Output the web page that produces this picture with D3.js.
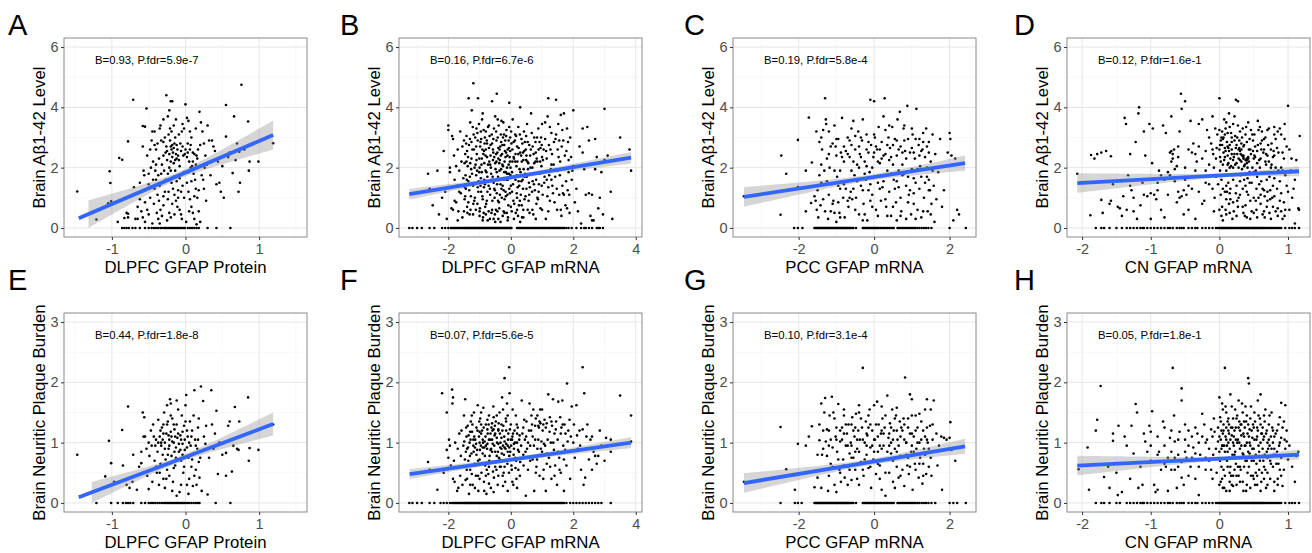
<!DOCTYPE html>
<html>
<head>
<meta charset="utf-8">
<script src="https://cdnjs.cloudflare.com/ajax/libs/d3/7.8.5/d3.min.js"></script>
<style>
body { margin: 0; background: #fff; }
svg { display: block; }
text { font-family: "Liberation Sans", Arial, sans-serif; }
</style>
</head>
<body>
<script>
// ---- labels ----
var letters = ["A", "B", "C", "D", "E", "F", "G", "H"];
var xTitles = ["DLPFC GFAP Protein", "DLPFC GFAP mRNA", "PCC GFAP mRNA", "CN GFAP mRNA"];
var yTitles = ["Brain A\u03b21-42 Level", "Brain Neuritic Plaque Burden"];
var statLabels = ["B=0.93, P.fdr=5.9e-7", "B=0.16, P.fdr=6.7e-6", "B=0.19, P.fdr=5.8e-4", "B=0.12, P.fdr=1.6e-1",
                  "B=0.44, P.fdr=1.8e-8", "B=0.07, P.fdr=5.6e-5", "B=0.10, P.fdr=3.1e-4", "B=0.05, P.fdr=1.8e-1"];

// ---- axes ----
var xDomains = [[-1.65, 1.65], [-3.58, 4.2], [-3.74, 2.7], [-2.22, 1.32]];
var xTicks = [[-1, 0, 1], [-2, 0, 2, 4], [-2, 0, 2], [-2, -1, 0, 1]];
var xMinor = [[-1.5, -0.5, 0.5, 1.5], [-3, -1, 1, 3], [-3, -1, 1], [-1.5, -0.5, 0.5]];
var yDomains = [[-0.3, 6.3], [-0.15, 3.15]];
var yTicks = [[0, 2, 4, 6], [0, 1, 2, 3]];
var yMinor = [[1, 3, 5], [0.5, 1.5, 2.5]];

// fitted line + band: x0, x1, y0, y1, x at narrowest, half width there, widening
var fits = [
    [-1.45, 1.19, 0.32, 3.08, -0.1, 0.12, 0.36],
    [-3.25, 3.85, 1.12, 2.33, 0.1, 0.07, 0.048],
    [-3.45, 2.41, 1.03, 2.15, -0.1, 0.1, 0.092],
    [-2.07, 1.16, 1.49, 1.88, 0.1, 0.07, 0.146],
    [-1.45, 1.19, 0.094, 1.31, -0.1, 0.05, 0.142],
    [-3.24, 3.85, 0.48, 1.0, 0.1, 0.035, 0.0224],
    [-3.45, 2.41, 0.33, 0.94, -0.1, 0.05, 0.0458],
    [-2.07, 1.16, 0.62, 0.8, 0.1, 0.035, 0.073]
];

// ---- points (x values of the y = 0 rows kept apart) ----
var zeroA = [-0.86,-0.83,-0.8,-0.77,-0.72,-0.68,-0.62,-0.55,-0.5,-0.46,-0.43,-0.4,-0.37,-0.34,-0.32,-0.29,-0.27,-0.25,-0.23,-0.21,-0.19,-0.17,-0.15,-0.13,-0.11,-0.09,-0.07,-0.05,-0.03,-0.01,0.03,0.06,0.09,0.12,0.15,0.18,0.3,0.42,0.61];
var ptsA = [[-1.47,1.21],[-1.21,0.28],[-1.03,1.88],[-1.02,1.49],[-1.01,0.88],[-1.05,0.82],[-0.92,0.2],[-0.9,2.32],[-0.86,2.26],[-0.78,2.87],[-0.71,4.25],[-0.83,0.33],[-0.8,0.5],[-0.78,0.47],[-0.78,0.35],
  [-0.58,3.38],[-0.55,3.36],[-0.53,3.96],[-0.58,2.7],[-0.52,2.4],[-0.57,1.9],[-0.56,1.75],[-0.5,1.45],[-0.6,1.2],[-0.62,1.5],[-0.55,0.85],[-0.52,0.6],[-0.5,0.45],[-0.58,0.35],[-0.6,0.55],[-0.48,1.0],[-0.47,2.0],[-0.46,2.9],[-0.45,3.2],[-0.65,0.7],
  [-0.42,3.2],[-0.4,2.6],[-0.38,2.8],[-0.36,2.3],[-0.35,3.3],[-0.34,3.4],[-0.33,1.8],[-0.32,2.1],[-0.4,1.6],[-0.42,1.3],[-0.38,1.1],[-0.36,0.9],[-0.34,0.6],[-0.32,0.4],[-0.3,0.75],[-0.28,1.2],[-0.29,1.9],[-0.27,2.5],[-0.26,2.7],[-0.28,3.0],[-0.26,4.4],[-0.3,3.6],[-0.44,2.2],[-0.41,1.9],[-0.39,0.5],[-0.37,0.3],[-0.35,1.4],[-0.31,1.5],[-0.3,2.4],[-0.43,0.8],
  [-0.24,3.7],[-0.22,3.9],[-0.2,4.2],[-0.18,4.2],[-0.23,3.1],[-0.21,2.9],[-0.2,2.7],[-0.19,2.6],[-0.18,2.75],[-0.17,2.5],[-0.16,2.65],[-0.15,2.8],[-0.14,3.0],[-0.13,2.45],[-0.12,2.3],[-0.2,2.2],[-0.22,2.0],[-0.24,1.8],[-0.21,1.6],[-0.19,1.5],[-0.17,1.3],[-0.15,1.1],[-0.13,0.9],[-0.11,0.7],[-0.23,1.2],[-0.24,0.95],[-0.22,0.5],[-0.2,0.35],[-0.18,0.8],[-0.16,1.7],[-0.14,1.9],[-0.12,1.55],[-0.1,1.25],[-0.08,2.05],[-0.06,2.55],[-0.05,3.2],[-0.04,3.45],[-0.02,3.3],[-0.09,3.1],[-0.07,2.8],[-0.03,2.4],[-0.01,2.45],[-0.1,1.0],[-0.08,0.6],[-0.06,0.45],[-0.04,1.4],[-0.02,1.0],[-0.11,2.6],[-0.25,2.55],[-0.16,3.4],[-0.13,3.6],[-0.19,3.2],
  [0.0,4.1],[0.02,3.65],[0.04,3.55],[0.06,3.2],[0.08,3.0],[0.1,2.5],[0.12,2.45],[0.03,2.5],[0.05,2.2],[0.07,2.0],[0.09,2.05],[0.11,1.8],[0.13,1.6],[0.15,2.4],[0.17,2.6],[0.19,3.85],[0.21,3.5],[0.23,3.2],[0.25,2.8],[0.27,2.4],[0.29,2.1],[0.02,1.5],[0.04,1.2],[0.06,0.95],[0.08,0.7],[0.1,0.5],[0.12,0.3],[0.14,1.3],[0.16,1.0],[0.18,0.55],[0.2,0.2],[0.22,1.75],[0.24,1.6],[0.26,2.0],[0.01,0.2],[0.03,2.8],[0.14,3.3],[0.3,3.4],[0.32,2.9],
  [0.36,2.9],[0.38,2.7],[0.4,2.55],[0.42,1.45],[0.46,1.5],[0.48,1.2],[0.5,2.05],[0.55,3.03],[0.55,4.08],[0.6,2.5],[0.64,1.82],[0.66,3.7],[0.7,2.8],[0.72,1.2],[0.73,2.53],[0.74,1.5],[0.76,4.75],[0.85,3.53],[0.86,1.9],[0.87,2.2],[0.99,2.2],[1.19,2.81],[0.34,1.75],[0.44,2.2],[0.52,1.0],[0.58,2.35],[0.68,2.25],[0.8,2.6],
  [-0.48,2.6],[-0.44,1.6],[-0.4,2.1],[-0.37,1.75],[-0.33,2.9],[-0.3,1.05],[-0.27,1.6],[-0.25,2.25],[-0.22,2.45],[-0.2,1.9],[-0.18,2.35],[-0.16,2.15],[-0.14,2.25],[-0.12,2.75],[-0.1,2.4],[-0.08,1.65],[-0.06,1.2],[-0.04,2.7],[-0.02,1.85],[0.0,2.6],[0.02,2.35],[0.04,1.85],[0.06,2.6],[0.08,1.55],[0.1,2.2],[0.12,1.05],[0.14,2.1],[0.16,2.3],[0.18,1.25],[-0.35,0.15],[-0.25,0.25],[-0.15,0.45],[-0.05,0.3],[0.05,0.55],[-0.45,0.15],[-0.55,0.2],[-0.65,0.3],[0.15,0.12],[-0.3,2.85],[-0.21,3.3],[-0.09,2.25],[0.07,2.75],[-0.42,2.75],[-0.5,1.8],[0.2,2.75],[0.25,1.3],[0.28,0.9],[-0.62,0.95],[-0.7,1.35],[-0.68,0.3]];

var zeroB = [-3.25,-3.15,-3.0,-2.85,-2.6,-2.45,-2.2,-2.1,-2.0,-1.92,-1.85,-1.78,-1.7,-1.62,-1.55,-1.48,-1.42,-1.36,-1.3,-1.24,-1.18,-1.12,-1.06,-1.0,-0.94,-0.88,-0.82,-0.76,-0.7,-0.64,-0.58,-0.52,-0.46,-0.4,-0.34,-0.28,-0.22,-0.16,-0.1,-0.04,0.02,0.2,0.28,0.36,0.44,0.52,0.6,0.68,0.76,0.84,0.92,1.0,1.08,1.16,1.24,1.32,1.4,1.48,1.56,1.64,1.72,1.85,1.95,2.1,2.25,2.35,2.5,2.75,2.85,2.95,
  -1.89,-1.81,-1.74,-1.66,-1.59,-1.51,-1.45,-1.39,-1.33,-1.27,-1.21,-1.15,-1.09,-1.03,-0.97,-0.91,-0.85,-0.79,-0.73,-0.67,-0.61,-0.55,-0.49,-0.43,-0.37,-0.31,-0.25,-0.19,-0.13,-0.07,-0.01,0.24,0.32,0.4,0.48,0.56,0.64,0.72,0.8,0.88,0.96,1.04,1.12,1.2,1.28,1.36,1.44,1.52,1.6,1.68,1.78,2.4,2.6,2.8];
var ptsB = [[-2.65,1.8],[-2.6,1.3],[-2.5,0.75],[-2.35,1.9],[-2.3,0.45],[-2.2,1.0],[-2.15,2.55],[-2.1,1.2],[-2.05,0.3],[-2.0,3.25],[-2.0,3.4],[-1.95,1.85],[-1.95,2.0],[-1.9,0.65],[-1.88,3.05],[-1.85,2.95],[-1.85,0.6],[-1.82,2.4],[-1.8,1.6],[-1.8,0.9],[-1.75,2.05],
  [-1.75,0.85],[-1.72,1.4],[-1.7,2.6],[-1.68,0.55],[-1.65,1.9],[-1.62,3.2],[-1.6,1.15],[-1.58,2.2],[-1.55,0.35],[-1.52,1.65],[-1.5,2.9],[-1.48,0.95],[-1.46,2.45],[-1.44,1.3],[-1.42,3.05],[-1.4,0.7],[-1.38,2.05],[-1.36,1.55],[-1.34,2.75],[-1.32,0.45],[-1.3,3.5],[-1.28,1.05],[-1.26,2.3],[-1.24,1.8],[-1.22,3.35],[-1.2,0.8],[-1.2,4.8],[-1.35,4.3],[-1.25,3.9],[-1.7,0.25],[-1.55,2.7],[-1.45,1.75],[-1.65,1.2],[-1.4,2.55],[-1.3,2.15],
  [-1.18,2.6],[-1.16,1.45],[-1.14,3.0],[-1.12,0.6],[-1.1,2.25],[-1.08,1.9],[-1.06,2.9],[-1.05,4.3],[-1.04,1.2],[-1.02,3.45],[-1.0,0.4],[-0.98,2.7],[-0.96,1.65],[-0.94,2.1],[-0.92,3.6],[-0.9,3.8],[-0.9,0.95],[-0.88,2.45],[-0.86,1.35],[-0.84,2.8],[-0.82,0.7],[-0.8,3.2],[-0.78,1.85],[-0.76,2.35],[-0.74,0.25],[-0.72,1.55],[-0.7,2.65],[-0.68,3.05],[-0.66,1.1],[-0.64,2.0],[-0.62,0.5],[-0.6,4.2],[-0.6,2.8],[-1.15,1.0],[-1.1,3.3],[-1.0,2.0],[-0.95,2.95],[-0.85,1.6],[-0.8,2.6],[-0.75,1.2],[-0.7,3.4],[-0.65,2.4],[-1.07,0.8],[-0.97,1.4],[-0.87,0.5],[-0.77,0.9],[-0.67,0.3],[-0.93,2.3],[-0.83,3.0],[-0.73,2.1],
  [-0.58,1.7],[-0.56,2.5],[-0.54,3.3],[-0.52,1.0],[-0.5,2.15],[-0.48,0.6],[-0.46,2.9],[-0.45,4.45],[-0.44,1.45],[-0.42,3.6],[-0.4,2.3],[-0.38,0.85],[-0.36,1.9],[-0.34,2.7],[-0.32,3.1],[-0.3,1.3],[-0.28,2.45],[-0.26,0.4],[-0.24,3.5],[-0.22,1.6],[-0.2,2.2],[-0.18,2.9],[-0.16,1.05],[-0.14,3.25],[-0.12,2.0],[-0.1,2.6],[-0.08,0.75],[-0.06,1.8],[-0.05,4.15],[-0.04,2.35],[-0.02,3.0],[0.0,1.4],[-0.55,0.3],[-0.5,3.7],[-0.45,1.85],[-0.4,2.65],[-0.35,1.1],[-0.3,3.55],[-0.25,2.05],[-0.2,0.95],[-0.15,2.5],[-0.1,1.6],[-0.05,3.35],[-0.57,2.25],[-0.47,2.45],[-0.37,2.15],[-0.27,2.75],[-0.17,2.35],[-0.07,2.1],[-0.53,1.3],[-0.43,0.55],[-0.33,0.2],[-0.23,1.25],[-0.13,0.5],[-0.03,1.15],[-0.42,3.0],[-0.32,2.4],[-0.22,3.1],[-0.12,1.8],[-0.02,2.55],
  [0.02,2.8],[0.04,1.2],[0.06,3.6],[0.08,0.9],[0.1,2.3],[0.12,1.7],[0.14,3.1],[0.16,0.5],[0.18,2.05],[0.2,2.7],[0.22,1.35],[0.24,3.35],[0.26,0.75],[0.28,1.95],[0.3,4.0],[0.3,2.5],[0.32,1.1],[0.34,2.95],[0.36,0.35],[0.38,1.6],[0.4,2.25],[0.42,3.2],[0.44,0.95],[0.46,1.8],[0.48,2.6],[0.5,1.3],[0.52,3.45],[0.54,0.6],[0.56,2.15],[0.58,1.5],[0.05,2.2],[0.15,2.45],[0.25,1.55],[0.35,2.2],[0.45,2.85],[0.55,1.95],[0.1,0.3],[0.2,1.0],[0.4,0.6],[0.5,2.4],
  [0.62,2.4],[0.65,3.8],[0.68,1.2],[0.7,2.7],[0.72,0.45],[0.75,3.0],[0.78,1.8],[0.8,2.5],[0.82,0.8],[0.85,2.2],[0.88,3.3],[0.9,1.45],[0.92,2.85],[0.95,0.65],[0.98,2.05],[1.0,3.45],[1.02,1.1],[1.05,2.6],[1.08,1.7],[1.1,2.95],[1.12,0.3],[1.15,2.3],[1.18,3.7],[1.2,4.3],[1.2,1.35],[1.22,2.75],[1.25,0.9],[1.28,1.95],[1.3,3.15],[1.32,2.45],[1.35,1.15],[1.38,2.85],[0.7,1.55],[0.85,1.0],[1.0,2.35],[1.15,1.6],[1.3,2.1],[0.95,2.65],[1.1,3.5],[0.75,2.15],
  [1.42,1.7],[1.45,4.25],[1.48,0.6],[1.5,2.6],[1.52,3.45],[1.55,1.1],[1.58,2.2],[1.6,3.75],[1.62,0.4],[1.65,1.4],[1.68,2.9],[1.7,3.8],[1.72,1.95],[1.75,0.75],[1.78,2.55],[1.8,3.3],[1.82,1.25],[1.85,2.25],[1.88,0.5],[1.9,3.0],[1.95,1.6],[2.0,3.9],[2.0,2.05],[2.05,0.85],[1.55,2.9],[1.7,1.1],[1.85,1.85],[1.5,1.9],
  [2.1,1.3],[2.2,2.7],[2.3,3.3],[2.35,1.95],[2.4,1.1],[2.45,3.35],[2.5,2.9],[2.5,1.15],[2.55,0.4],[2.6,0.25],[2.65,0.25],[2.7,2.95],[2.75,2.35],[2.8,0.65],[2.85,1.0],[2.9,1.85],[2.95,0.45],[3.1,2.4],[3.2,1.2],[3.25,0.3],[3.5,3.0],[3.8,2.6],[3.85,1.9],[2.15,0.55],[2.3,2.5],[2.25,0.15],[2.6,1.1],[2.7,1.95],[3.0,3.95],[3.0,2.25],
  [-1.48,2.15],[-1.46,1.05],[-1.43,2.8],[-1.41,1.6],[-1.39,0.5],[-1.37,2.35],[-1.33,1.25],[-1.31,2.95],[-1.29,0.6],[-1.27,1.95],[-1.23,2.6],[-1.21,1.4],[-1.19,3.1],[-1.17,0.9],[-1.13,2.1],[-1.11,1.75],[-1.09,2.45],[-1.07,3.15],[-1.03,1.55],[-1.01,2.3],[-0.99,0.65],[-0.97,2.85],[-0.95,1.2],[-0.93,1.85],[-0.91,2.6],[-0.89,0.35],[-0.87,3.25],[-0.85,2.15],[-0.83,1.45],[-0.81,2.4],[-0.79,0.8],[-0.77,2.9],[-0.75,1.7],[-0.73,3.35],[-0.71,0.55],[-0.69,2.2],[-0.67,1.3],[-0.65,2.75],[-0.63,1.8],[-0.61,3.1],[-0.59,0.9],[-0.57,2.6],[-0.55,1.5],[-0.53,2.35],[-0.51,0.45],[-0.49,1.95],[-0.47,3.2],[-0.45,1.15],[-0.43,2.5],[-0.41,1.7],[-0.39,3.4],[-0.37,0.65],[-0.35,2.25],[-0.33,1.45],[-0.31,2.85],[-0.29,1.0],[-0.27,2.1],[-0.25,3.0],[-0.23,0.55],[-0.21,1.85],[-0.19,2.55],[-0.17,1.2],[-0.15,3.05],[-0.13,1.6],[-0.11,2.4],[-0.09,0.35],[-0.07,2.9],[-0.05,1.3],[-0.03,2.2],[-0.01,1.75],[0.01,3.2],[0.03,0.55],[0.05,2.6],[0.07,1.45],[0.09,2.35],[0.11,0.8],[0.13,2.9],[0.15,1.6],[0.17,3.05],[0.19,1.15],[0.21,2.2],[0.23,0.4],[0.25,2.65],[0.27,1.4],[0.29,3.1],[0.31,1.85],[0.33,2.4],[0.35,0.75],[0.37,2.8],[0.39,1.3],[0.41,1.95],[0.43,2.55],[0.47,1.05],[0.49,3.05],[0.51,1.7],[0.53,2.2],[0.57,0.9],[0.59,2.75],[0.61,1.35],[0.63,2.0],[0.67,3.15],[0.69,0.6],[0.73,2.45],[0.77,1.25],[0.79,2.85],[0.81,1.6],[0.83,2.3],[0.87,0.95],[0.89,2.6],[0.93,1.8],[0.97,3.0],[0.99,1.4],
  [-1.47,1.35],[-1.42,2.2],[-1.36,0.85],[-1.31,1.7],[-1.26,2.85],[-1.21,0.45],[-1.16,2.0],[-1.11,2.7],[-1.06,1.35],[-1.01,1.85],[-0.96,3.2],[-0.91,1.05],[-0.86,2.55],[-0.81,1.9],[-0.76,2.8],[-0.71,1.4],[-0.66,2.1],[-0.61,1.6],[-0.56,2.95],[-0.51,1.25],[-0.46,2.2],[-0.41,0.9],[-0.36,2.6],[-0.31,1.95],[-0.26,1.4],[-0.21,2.75],[-0.16,1.85],[-0.11,1.1],[-0.06,2.65],[-0.01,2.0],[0.04,1.85],[0.09,2.85],[0.14,2.2],[0.19,1.75],[0.24,2.45],[0.29,0.9],[0.34,1.55],[0.39,2.5],[0.44,1.7],[0.49,2.25],[0.54,2.85],[0.59,1.1],[0.64,2.6],[0.69,2.0],[0.74,1.45],[0.79,2.2],[0.84,3.0],[0.89,1.2],[0.94,2.2],[0.99,2.75],
  [-1.5,0.55],[-1.0,0.55],[-0.8,0.45],[-0.6,0.6],[-0.4,0.3],[-0.2,0.5],[0.0,0.7],[0.2,0.6],[0.4,0.35],[0.6,0.5],[0.8,0.3],[1.0,0.6],[1.2,0.55],[1.4,0.85],[1.6,0.6],[1.8,0.65],[-0.9,0.25],[-0.5,0.2],[-0.1,0.25],[0.3,0.2],
  [1.03,2.25],[1.07,1.5],[1.13,2.55],[1.17,1.05],[1.23,1.75],[1.27,2.6],[1.33,1.4],[1.37,2.1],[1.43,2.95],[1.47,1.3],[1.53,2.35],[1.57,1.75],[1.63,2.7],[1.67,1.15],[1.73,2.4],[1.77,1.55],[1.83,2.85],[1.87,1.1],[1.93,2.35],[1.97,1.9],[1.25,3.35],[1.45,3.1],[1.65,3.25],[1.3,1.6]];

var zeroC = [-2.12,-2.02,-1.9,-1.58,-1.53,-1.48,-1.43,-1.38,-1.33,-1.28,-1.23,-1.18,-1.13,-1.08,-1.03,-0.98,-0.93,-0.88,-0.83,-0.78,-0.73,-0.68,-0.62,-0.55,-0.48,-0.3,-0.24,-0.18,-0.12,-0.06,0.0,0.06,0.12,0.2,0.28,0.36,0.44,0.52,0.62,0.7,0.78,0.86,0.94,1.02,1.1,1.2,1.32,1.44,1.52,2.0,2.43,
  -1.55,-1.5,-1.45,-1.4,-1.35,-1.3,-1.25,-1.2,-1.15,-1.1,-1.05,-1.0,-0.95,-0.9,-0.85,-0.8,-0.75,-0.7,-0.65,-0.58,-0.27,-0.21,-0.15,-0.09,-0.03,0.03,0.09,0.16,0.24,0.32,0.4,0.48,0.66,0.74,0.82,0.9,0.98,1.06,1.15,1.26,1.38];
var ptsC = [[-3.45,1.05],[-2.46,2.4],[-2.48,0.44],[-2.33,1.8],[-2.02,2.92],[-2.02,1.36],[-1.65,2.17],[-1.81,1.9],[-1.73,3.66],[-1.81,0.55],[-1.67,0.83],[-1.58,1.05],[-1.53,3.2],
  [-1.55,0.9],[-1.52,0.6],[-1.5,1.25],[-1.48,0.35],[-1.45,2.85],[-1.42,0.75],[-1.4,1.5],[-1.38,2.6],[-1.35,3.25],[-1.32,1.9],[-1.3,4.3],[-1.28,3.6],[-1.27,3.45],[-1.25,2.3],[-1.22,0.3],[-1.2,1.1],[-1.18,2.0],[-1.15,0.55],[-1.12,1.45],[-1.1,2.8],[-1.08,0.9],[-1.05,3.4],[-1.02,2.7],[-1.0,0.2],[-0.98,1.7],[-0.95,2.95],[-0.92,0.5],[-0.9,1.3],[-0.88,2.5],[-0.85,3.65],[-0.82,1.0],[-0.8,2.2],[-0.78,0.35],[-0.75,2.55],[-0.72,1.55],[-0.7,3.0],[-0.68,0.7],[-0.65,2.35],[-0.62,1.2],[-0.6,2.75],[-0.58,0.95],[-0.55,3.55],[-0.52,1.75],[-0.5,2.6],[-0.48,1.0],[-0.45,2.1],[-0.42,3.2],[-0.4,0.45],[-0.38,2.45],[-0.35,1.4],[-0.32,2.9],[-0.3,3.6],[-0.28,0.8],[-0.25,2.2],[-0.22,1.6],[-0.2,3.1],[-0.18,0.25],[-0.15,2.5],[-0.12,1.85],[-0.1,4.25],[-0.08,2.75],[-0.05,1.1],[-0.02,2.35],[0.0,4.2],[0.02,3.0],[0.05,0.6],[0.08,2.6],[0.1,1.5],[0.12,3.35],[0.15,2.15],[0.18,0.9],[0.2,2.85],[0.22,1.35],[0.25,3.7],[0.28,4.3],[0.3,2.45],[0.32,0.7],[0.35,1.9],[0.38,3.0],[0.4,1.2],[0.42,2.65],[0.45,0.4],[0.48,3.35],[0.5,2.1],[0.52,1.6],[0.55,2.95],[0.58,0.85],[0.6,2.4],[0.62,3.6],[0.65,1.35],[0.68,3.85],[0.7,2.7],[0.72,0.55],[0.75,2.1],[0.78,3.3],[0.8,1.8],[0.82,2.55],[0.85,0.3],[0.88,4.05],[0.9,2.95],[0.92,1.1],[0.95,2.5],[0.98,0.45],[1.0,1.95],[1.02,3.1],[1.05,0.8],[1.08,2.3],[1.1,1.5],[1.12,3.95],[1.15,0.6],[1.18,2.75],[1.2,1.3],[1.22,2.05],[1.25,0.35],[1.28,2.6],[1.3,3.15],[1.32,1.0],[1.35,2.35],[1.38,3.3],[1.4,1.7],[1.42,0.55],[1.45,2.5],[1.48,1.25],[1.5,2.2],[1.52,0.8],[1.55,3.1],[1.58,1.4],[1.62,2.45],[1.65,0.95],[1.7,1.85],[1.75,2.95],[1.8,0.7],[1.85,1.25],[1.95,2.5],[2.0,3.15],[2.02,2.95],[2.05,2.4],[2.1,0.25],[2.2,0.6],[2.25,0.45],[2.15,2.3],
  [-1.0,2.4],[-0.8,1.45],[-0.6,1.9],[-0.4,2.7],[-0.2,2.05],[0.0,2.5],[0.2,1.75],[0.4,2.25],[0.6,1.55],[0.8,2.9],[1.0,2.65],[1.2,2.4],[1.4,2.0],[-0.7,2.45],[-0.3,1.25],[0.1,2.2],[0.5,2.75],[0.9,1.7],[1.3,2.85],[-0.9,1.9],[-0.5,3.05],[0.3,3.25],[0.7,1.0],[1.1,2.95],[-1.2,2.45],[-1.4,2.1],[-0.1,1.45],[0.15,2.6],[0.45,1.8],[0.75,2.5],[1.05,1.15],[1.45,1.6],[-0.65,1.0],[-0.05,0.7],[0.35,0.4],[1.25,1.7],[-1.05,0.5],[-0.25,0.45],[0.6,0.25],[1.6,0.2],
  [-1.45,1.75],[-1.35,0.95],[-1.25,1.55],[-1.15,2.7],[-1.05,1.9],[-0.95,0.85],[-0.85,2.35],[-0.75,1.3],[-0.65,2.9],[-0.55,2.2],[-0.45,1.55],[-0.35,3.0],[-0.25,1.8],[-0.15,2.85],[-0.05,2.0],[0.05,2.7],[0.15,1.3],[0.25,2.4],[0.35,2.75],[0.45,2.35],[0.55,1.3],[0.65,2.6],[0.75,1.75],[0.85,2.3],[0.95,1.25],[1.05,2.5],[1.15,1.95],[1.25,2.55],[1.35,1.5],[1.45,2.85],[1.55,1.9],[-1.4,3.0],[-1.2,3.2],[-1.0,2.95],[-0.8,2.7],[-0.6,3.3],[-0.4,2.0],[-0.2,2.6],[0.0,3.1],[0.2,2.3],[0.4,3.4],[0.6,2.9],[0.8,3.4],[1.0,3.3],[1.2,2.95],[1.4,2.7],[-1.3,0.55],[-1.1,0.8],[-0.9,0.35],[-0.7,0.9],[-0.5,0.6],[-0.3,0.25],[-0.1,0.9],[0.1,0.4],[0.3,0.95],[0.5,0.7],[0.7,0.4],[0.9,0.85],[1.1,0.3],[1.3,0.55],[1.5,0.45],[-0.95,1.4],[-0.55,1.3],[-0.15,1.25],[0.25,1.55],[0.65,1.9],[1.05,1.65],[1.45,1.25],[0.85,1.4],[-0.35,2.35]];

var zeroD = [-1.8,-1.72,-1.68,-1.6,-1.5,-1.42,-1.35,-1.25,-1.2,-1.15,-1.1,-1.05,-1.0,-0.9,-0.85,-0.8,-0.72,-0.68,-0.62,-0.58,-0.52,-0.45,-0.4,-0.32,-0.25,-0.15,-0.1,-0.05,-0.02,0.0,0.03,0.06,0.09,0.12,0.15,0.18,0.21,0.24,0.27,0.3,0.33,0.36,0.39,0.42,0.45,0.48,0.51,0.54,0.57,0.6,0.63,0.66,0.7,0.74,0.78,0.82,0.86,0.9,0.96,1.02,1.06,1.16,
  0.015,0.045,0.075,0.105,0.135,0.165,0.195,0.225,0.255,0.285,0.315,0.345,0.375,0.405,0.435,0.465,0.495,0.525,0.555,0.585,0.615,0.645,0.68,0.72,0.76,0.8,0.84,0.88,-1.3,-1.12,-0.95,-0.75,-0.55,-0.35,-0.2,1.1];
var ptsD = [[-2.07,1.8],[-1.88,0.42],[-1.87,2.42],[-1.82,2.3],[-1.78,2.45],[-1.72,2.5],[-1.72,0.93],[-1.7,0.5],[-1.65,2.55],[-1.6,0.8],[-1.58,2.38],[-1.55,1.45],[-1.5,1.55],[-1.48,0.7],[-1.45,0.65],[-1.4,1.05],[-1.38,3.65],[-1.36,3.45],[-1.33,1.75],[-1.3,2.45],[-1.28,1.25],[-1.25,0.55],[-1.22,2.85],[-1.2,0.3],[-1.18,3.8],[-1.17,4.0],[-1.15,0.75],[-1.12,1.5],[-1.1,3.2],[-1.08,2.4],[-1.05,1.05],[-1.02,3.45],[-1.0,0.3],[-0.98,2.15],[-0.97,3.3],[-0.95,1.1],[-0.92,0.95],[-0.9,1.25],[-0.88,1.9],[-0.85,0.6],[-0.82,3.4],[-0.8,0.35],[-0.78,3.15],[-0.75,1.1],[-0.72,2.5],[-0.7,3.7],[-0.68,2.3],[-0.66,2.6],[-0.65,1.55],[-0.62,0.85],[-0.6,1.2],[-0.58,3.2],[-0.56,4.45],[-0.55,3.95],[-0.52,0.45],[-0.5,4.2],[-0.5,2.0],[-0.48,1.1],[-0.45,0.6],[-0.42,3.55],[-0.4,1.3],[-0.38,2.8],[-0.35,0.3],[-0.33,2.2],[-0.3,3.45],[-0.28,1.7],[-0.25,3.6],[-0.22,0.9],[-0.2,2.55],[-0.18,3.25],[-0.15,1.45],[-0.12,2.8],[-0.1,3.7],[-0.08,0.55],[-0.05,2.3],[-0.03,3.1],
  [-0.7,2.55],[-0.68,2.45],[-0.75,1.85],[-0.72,1.75],[-0.62,2.05],[-0.6,2.35],[-0.65,1.95],[-0.8,1.6],[-0.85,1.75],[-0.9,1.5],[-1.0,1.15],[-1.1,1.1],[-0.95,1.6],[-1.2,1.6],[-1.3,1.4],[-1.25,1.0],[-1.42,0.4],[-1.58,0.9],[-1.35,0.6],[-0.58,1.0],[-0.55,1.05],[-0.52,1.25],[-0.45,1.4],[-0.4,2.5],[-0.35,1.9],[-0.3,1.2],[-0.25,0.8],[-0.2,1.5],[-0.15,2.1],[-0.1,1.3],[-0.05,1.7],
  [0.0,4.3],[0.02,2.9],[0.04,3.2],[0.06,2.5],[0.08,1.2],[0.1,3.5],[0.12,2.7],[0.14,0.8],[0.16,2.3],[0.18,3.0],[0.2,1.6],[0.01,1.9],[0.03,0.4],[0.05,2.1],[0.07,3.6],[0.09,0.6],[0.11,2.85],[0.13,1.5],[0.15,3.35],[0.17,2.05],[0.19,0.3],[0.0,2.6],[0.02,1.1],[0.04,2.75],[0.06,1.75],[0.08,3.1],[0.1,0.95],[0.12,2.4],[0.14,3.8],[0.16,1.3],[0.18,2.6],[0.2,3.45],[0.05,0.25],[0.1,1.9],[0.15,0.5],[0.2,2.25],[0.03,3.0],[0.13,2.15],[0.01,2.35],[0.09,2.55],
  [0.22,2.9],[0.24,4.25],[0.26,2.45],[0.28,1.0],[0.3,3.2],[0.32,2.2],[0.34,0.7],[0.36,2.75],[0.38,1.4],[0.4,2.3],[0.42,3.5],[0.44,1.85],[0.21,0.55],[0.23,2.1],[0.25,1.4],[0.27,3.4],[0.29,2.65],[0.31,1.75],[0.33,3.0],[0.35,2.35],[0.37,0.4],[0.39,2.25],[0.41,2.0],[0.43,2.6],[0.45,0.9],[0.22,3.7],[0.26,0.9],[0.3,2.55],[0.34,1.3],[0.38,3.1],[0.42,1.1],[0.28,2.0],[0.32,2.8],[0.36,1.6],[0.4,0.35],[0.44,2.95],[0.24,2.65],[0.35,2.4],[0.4,2.25],[0.27,4.2],
  [0.46,3.25],[0.48,2.0],[0.5,0.5],[0.52,2.7],[0.54,1.3],[0.56,3.55],[0.58,2.25],[0.6,0.8],[0.62,2.9],[0.64,1.8],[0.66,0.35],[0.68,2.45],[0.7,1.2],[0.47,1.5],[0.49,2.55],[0.51,3.1],[0.53,0.9],[0.55,2.15],[0.57,1.0],[0.59,3.35],[0.61,1.55],[0.63,0.45],[0.65,2.6],[0.67,3.0],[0.69,0.7],[0.5,2.3],[0.55,1.7],[0.6,2.8],[0.65,1.25],[0.7,2.4],
  [0.72,3.3],[0.74,0.95],[0.76,2.1],[0.78,1.4],[0.8,3.1],[0.82,0.55],[0.84,2.65],[0.86,1.9],[0.88,3.3],[0.9,1.15],[0.92,2.5],[0.94,0.85],[0.96,1.75],[0.98,2.7],[1.0,1.2],[1.0,4.05],[1.02,0.6],[1.05,2.3],[1.08,1.3],[1.1,0.15],[1.12,2.25],[1.15,0.65],[1.16,0.6],[1.17,3.05],[0.75,2.6],[0.8,1.65],[0.85,0.4],[0.9,2.0],[0.95,3.45],[0.78,2.35],[0.82,2.95],[0.88,1.55],[0.92,0.3],[0.73,1.7],[1.04,1.9],
  [-0.09,2.45],[-0.07,1.0],[-0.04,2.65],[-0.02,1.45],[0.0,3.25],[0.02,2.2],[0.04,0.7],[0.06,3.0],[0.08,2.35],[0.1,1.4],[0.12,3.15],[0.14,2.55],[0.16,0.95],[0.18,2.85],[0.2,2.0],[0.22,2.45],[0.24,1.15],[0.26,3.0],[0.28,2.3],[0.3,1.55],[0.32,2.6],[0.34,3.3],[0.36,2.05],[0.38,0.75],[0.4,2.85],[0.42,2.3],[0.44,1.5],[0.46,2.45],[0.48,3.1],[0.5,1.85],[0.52,2.35],[0.54,0.6],[0.56,2.75],[0.58,1.45],[0.6,2.3],[0.62,3.2],[0.64,2.5],[0.66,1.05],[0.68,2.1],[0.7,3.25],[0.72,2.2],[0.74,1.25],[0.76,2.8],[0.78,0.7],[0.8,2.4],
  [0.01,2.75],[0.03,1.6],[0.05,2.95],[0.07,2.25],[0.09,3.3],[0.11,1.2],[0.13,2.65],[0.15,2.0],[0.17,3.15],[0.19,1.75],[0.21,2.35],[0.23,3.05],[0.25,2.15],[0.27,0.7],[0.29,2.9],[0.31,2.45],[0.33,1.95],[0.35,2.7],[0.37,2.1],[0.39,3.35],[0.41,1.65],[0.43,2.2],[0.45,2.6],[0.47,0.55],[0.49,2.9],[0.51,2.4],[0.53,1.9],[0.55,2.55],[0.57,3.25],[0.59,2.0],[0.61,2.6],[0.63,1.3],[0.65,2.95],[0.67,2.2],[0.69,1.6],[0.71,2.75],[0.73,0.5],[0.75,2.0],[0.77,1.0],[0.79,2.55],
  [0.0,0.6],[0.05,1.3],[0.1,0.45],[0.15,1.15],[0.2,0.85],[0.25,0.4],[0.3,1.1],[0.35,0.5],[0.4,1.2],[0.45,0.3],[0.5,1.0],[0.55,0.35],[0.6,1.1],[0.65,0.55],[0.7,0.9],[0.75,0.3],[0.8,1.05],[0.85,0.65],[0.9,0.55],[0.95,0.4],
  [0.3,2.25],[0.35,2.3],[0.38,2.25],[0.42,2.35],[0.4,2.15],[0.33,2.4],[0.28,2.6],[0.25,2.75],[0.18,2.45],[0.15,2.75],[0.12,2.1],[0.08,2.65],
  [0.82,2.0],[0.84,1.3],[0.86,2.5],[0.88,0.9],[0.9,3.1],[0.92,1.9],[0.94,2.3],[0.96,0.6],[0.98,1.4],[1.02,2.6],[1.06,1.0],[1.1,1.6],[0.85,3.2],[0.95,2.95],[0.8,3.35],[-0.08,2.0],[-0.06,3.3],[-0.1,2.6],[-0.15,3.0],[-0.2,1.9],[-0.25,2.3],[-0.3,2.7],[-0.35,2.45],[-0.45,2.6],[-0.5,1.6],[-0.6,2.7],[-0.7,2.2]];

var zeroE = [-1.21,-1.01,-0.92,-0.85,-0.81,-0.78,-0.75,-0.71,-0.6,-0.55,-0.5,-0.47,-0.44,-0.41,-0.38,-0.35,-0.32,-0.29,-0.27,-0.25,-0.23,-0.21,-0.19,-0.17,-0.15,-0.13,-0.11,-0.09,-0.07,-0.05,-0.03,-0.01,0.02,0.05,0.08,0.11,0.14,0.17,0.19,0.41,0.61];
var ptsE = [[-1.47,0.8],[-1.09,0.44],[-1.04,1.03],[-1.01,0.66],[-0.97,0.35],[-0.86,1.21],[-0.85,0.62],[-0.78,1.6],[-0.71,0.8],[-0.8,0.3],[-0.76,0.25],[-0.72,0.35],[-0.66,0.22],[-0.63,0.6],[-0.6,0.66],[-0.58,1.5],[-0.56,1.42],[-0.57,1.1],[-0.55,1.1],[-0.53,0.9],[-0.52,0.45],[-0.5,0.23],[-0.49,0.78],[-0.47,1.2],[-0.46,0.95],
  [-0.44,1.3],[-0.42,0.7],[-0.41,0.95],[-0.4,1.05],[-0.39,0.5],[-0.38,0.85],[-0.37,1.38],[-0.36,0.3],[-0.35,1.1],[-0.34,0.65],[-0.33,0.95],[-0.32,1.25],[-0.31,0.8],[-0.3,0.4],[-0.29,1.5],[-0.28,1.0],[-0.27,0.72],[-0.26,1.15],[-0.25,0.55],[-0.24,1.35],[-0.23,0.9],[-0.22,1.05],[-0.21,1.72],[-0.2,1.18],[-0.19,0.78],[-0.18,1.4],[-0.17,0.35],[-0.16,1.0],[-0.15,1.22],[-0.14,0.62],[-0.13,0.92],[-0.12,1.3],[-0.11,1.08],[-0.1,1.55],[-0.09,0.85],[-0.08,0.18],[-0.07,1.12],[-0.06,0.7],[-0.05,1.45],[-0.04,0.98],[-0.03,0.5],[-0.02,1.28],[-0.01,0.88],[0.0,1.62],[0.01,1.79],[0.02,0.3],[0.03,1.1],[0.04,0.75],[0.05,0.4],[0.06,1.35],[0.07,0.95],[0.08,0.6],[0.09,1.2],[0.1,0.28],[0.11,0.82],[0.12,1.87],[0.13,1.05],[0.14,0.55],[0.15,0.3],[0.16,0.9],[0.17,1.25],[0.18,0.68],[0.19,0.42],[0.21,1.93],[0.22,0.2],[-0.28,0.25],[-0.22,0.45],[-0.16,0.58],[-0.12,0.12],[-0.2,1.65],[-0.25,1.62],[-0.3,1.3],[-0.06,1.05],[-0.14,1.1],[-0.18,1.02],[-0.23,1.12],[-0.09,0.98],[-0.04,0.8],[0.02,0.92],[-0.33,1.0],[-0.1,0.72],
  [0.24,1.69],[0.25,1.1],[0.27,0.98],[0.3,0.14],[0.32,0.75],[0.35,1.87],[0.36,1.3],[0.38,0.9],[0.42,1.53],[0.44,0.48],[0.46,1.0],[0.5,0.8],[0.55,0.45],[0.55,0.83],[0.58,1.28],[0.6,1.35],[0.63,0.52],[0.65,0.95],[0.67,1.59],[0.7,0.9],[0.72,0.88],[0.73,1.35],[0.75,1.1],[0.85,1.75],[0.86,0.7],[0.87,0.91],[0.99,0.88],[1.19,1.3],[0.28,1.28],[0.4,1.15],
  [-0.43,1.1],[-0.4,0.6],[-0.37,1.0],[-0.34,1.2],[-0.31,1.05],[-0.28,0.9],[-0.25,1.3],[-0.22,0.95],[-0.19,1.1],[-0.16,1.3],[-0.13,0.75],[-0.1,1.15],[-0.07,0.88],[-0.04,1.18],[-0.01,1.05],[0.02,1.2],[0.05,1.0],[0.08,1.1],[0.11,1.45],[0.14,0.95],[0.17,1.05],[0.2,0.75],[-0.26,0.4],[-0.18,0.2],[-0.06,0.3],[0.04,0.15],[0.12,0.45],[-0.35,0.5],[-0.45,0.35],[-0.24,0.8],[-0.15,0.85],[-0.02,0.6],[0.09,0.72],[-0.3,1.15],[-0.2,1.45],[0.0,1.35],[-0.12,1.7],[0.18,1.4],[-0.5,1.0],[-0.6,0.85]];

var zeroF = [-3.25,-3.15,-3.0,-2.85,-2.6,-2.45,-2.25,-2.15,-2.05,-1.95,-1.88,-1.8,-1.72,-1.65,-1.58,-1.5,-1.44,-1.38,-1.32,-1.26,-1.2,-1.14,-1.08,-1.02,-0.96,-0.9,-0.84,-0.78,-0.72,-0.66,-0.6,-0.54,-0.48,-0.42,-0.36,-0.3,-0.24,-0.18,-0.12,-0.06,0.0,0.06,0.12,0.18,0.24,0.3,0.36,0.42,0.5,0.58,0.66,0.74,0.82,0.9,0.98,1.06,1.14,1.22,1.3,1.38,1.46,1.54,1.62,1.7,1.78,1.9,2.0,2.1,2.2,2.3,2.4,2.5,2.6,2.7,2.8,2.9,3.2,
  -1.84,-1.76,-1.69,-1.61,-1.54,-1.47,-1.41,-1.35,-1.29,-1.23,-1.17,-1.11,-1.05,-0.99,-0.93,-0.87,-0.81,-0.75,-0.69,-0.63,-0.57,-0.51,-0.45,-0.39,-0.33,-0.27,-0.21,-0.15,-0.09,-0.03,0.03,0.09,0.15,0.21,0.27,0.33,0.39,0.46,0.54,0.62,0.7,0.78,0.86,0.94,1.02,1.1,1.18,1.26,1.34,1.42,1.5,1.58,1.66];
var ptsF = [[-2.65,0.68],[-2.6,0.55],[-2.35,0.22],[-2.2,1.82],[-2.15,0.5],[-2.05,0.88],[-2.05,1.5],[-2.0,0.75],[-1.98,1.05],[-1.95,0.95],[-1.92,0.62],[-1.88,1.88],[-1.87,1.65],[-1.85,1.75],[-1.85,0.4],[-1.82,0.7],[-1.8,0.35],[-1.78,1.0],[-1.75,0.58],[-1.72,0.2],[-1.7,0.9],[-1.68,0.25],[-1.65,1.15],[-1.62,0.45],[-1.6,0.78],[-1.58,1.2],[-1.55,0.3],[-1.52,0.95],[-1.5,1.45],[-1.48,0.6],[-1.46,1.72],[-1.44,0.85],[-1.42,1.1],[-1.4,0.4],[-1.38,1.28],[-1.36,0.7],[-1.34,0.15],[-1.32,1.0],[-1.3,0.55],[-1.28,1.35],[-1.26,0.82],[-1.24,1.18],[-1.22,0.3],[-1.2,0.95],[-1.18,1.5],[-1.16,0.65],[-1.14,1.05],[-1.12,0.45],[-1.1,1.25],[-1.08,0.88],[-1.06,1.62],[-1.04,0.2],[-1.02,1.1],[-1.0,0.72],[-0.98,1.4],[-0.96,0.95],[-0.94,0.5],[-0.92,1.2],[-0.9,0.82],[-0.88,1.58],[-0.86,0.35],[-0.84,1.02],[-0.82,0.62],[-0.8,1.3],[-0.78,0.15],[-0.76,0.9],[-0.74,1.15],[-0.72,0.48],[-0.7,1.45],[-0.68,0.78],[-0.66,1.05],[-0.64,0.25],[-0.62,1.25],[-0.6,0.68],[-0.58,0.98],[-0.56,1.6],[-0.54,0.42],[-0.52,1.12],[-0.5,0.85],[-0.48,1.35],[-0.46,0.55],[-0.44,1.0],[-0.42,0.3],[-0.4,1.2],[-0.38,0.75],[-0.36,1.5],[-0.34,0.92],[-0.32,0.6],[-0.3,1.08],[-0.28,1.75],[-0.26,0.45],[-0.24,1.28],[-0.22,0.8],[-0.2,2.07],[-0.2,1.02],[-0.18,0.35],[-0.16,1.4],[-0.14,0.7],[-0.12,1.65],[-0.1,0.95],[-0.08,1.15],[-0.06,0.5],[-0.05,2.25],[-0.04,1.82],[-0.02,0.85],[0.0,1.3],[0.02,0.62],[0.04,1.05],[0.06,1.55],[0.08,0.3],[0.1,0.9],[0.12,1.2],[0.14,0.75],[0.16,1.45],[0.18,0.4],[0.2,1.0],[0.22,1.25],[0.24,0.55],[0.26,0.85],[0.28,1.12],[0.3,0.68],
  [-1.15,0.92],[-1.0,1.0],[-0.9,1.05],[-0.85,0.92],[-0.75,1.22],[-0.65,0.88],[-0.55,1.22],[-0.45,0.78],[-0.35,1.15],[-0.25,0.95],[-0.15,1.2],[-0.05,0.92],[0.05,1.1],[-0.95,1.3],[-0.6,1.32],[-0.4,0.98],[-0.3,1.3],[-0.1,1.45],[-0.7,0.6],[-0.5,0.6],[-0.2,0.6],[0.15,0.58],[-1.05,0.45],[-0.8,0.45],
  [0.35,1.7],[0.4,0.8],[0.45,1.05],[0.48,0.12],[0.5,1.35],[0.55,0.55],[0.6,1.65],[0.62,0.95],[0.65,1.2],[0.7,0.72],[0.72,1.55],[0.75,0.2],[0.78,1.05],[0.8,1.4],[0.82,0.6],[0.85,0.9],[0.88,1.28],[0.9,1.25],[0.92,0.45],[0.95,1.32],[0.98,1.02],[1.0,0.85],[1.02,1.2],[1.05,0.55],[1.08,1.38],[1.1,0.95],[1.12,0.2],[1.15,1.32],[1.18,1.05],[1.2,1.8],[1.22,0.75],[1.25,1.42],[1.28,1.0],[1.3,0.4],[1.32,1.28],[1.35,1.72],[1.38,0.88],[1.4,1.15],[1.42,0.62],[1.45,1.35],[1.48,0.3],[0.4,1.25],[0.55,1.0],[0.7,1.1],[0.85,1.45],[1.0,1.55],[1.15,0.65],
  [1.5,1.05],[1.52,1.68],[1.55,0.75],[1.58,1.42],[1.6,0.5],[1.62,1.25],[1.65,1.7],[1.68,0.95],[1.7,0.2],[1.72,1.3],[1.75,1.15],[1.78,0.62],[1.8,1.98],[1.82,1.02],[1.85,0.85],[1.88,1.38],[1.9,0.4],[1.95,1.6],[2.0,1.0],[2.05,0.75],[2.1,1.62],[2.15,0.9],[2.2,1.2],[2.25,0.55],[2.3,2.25],[2.3,1.22],[2.33,0.3],[2.35,1.82],[2.38,0.42],[2.4,0.9],[2.45,1.3],[2.5,0.72],
  [2.55,1.05],[2.6,0.55],[2.65,0.85],[2.7,0.78],[2.75,0.65],[2.8,0.78],[2.9,0.95],[3.0,0.7],[3.05,1.08],[3.2,0.85],[3.2,1.05],[3.5,1.78],[3.85,1.45],[3.85,1.02],[2.6,1.1],[2.85,1.2],
  [-1.49,1.02],[-1.47,0.72],[-1.43,1.25],[-1.41,0.55],[-1.37,0.92],[-1.35,1.12],[-1.31,0.78],[-1.29,1.05],[-1.25,0.48],[-1.23,1.3],[-1.19,0.85],[-1.17,1.1],[-1.13,0.62],[-1.11,0.98],[-1.07,1.2],[-1.05,0.7],[-1.01,1.35],[-0.99,0.88],[-0.95,1.15],[-0.93,0.65],[-0.89,1.0],[-0.87,1.25],[-0.83,0.78],[-0.81,1.1],[-0.77,0.55],[-0.75,0.98],[-0.71,1.3],[-0.69,0.7],[-0.65,1.15],[-0.63,0.9],[-0.59,1.2],[-0.57,0.52],[-0.53,0.95],[-0.51,1.28],[-0.47,0.68],[-0.45,1.08],[-0.41,0.85],[-0.39,1.32],[-0.35,0.6],[-0.33,1.0],[-0.29,0.82],[-0.27,1.2],[-0.23,0.5],[-0.21,1.1],[-0.17,0.9],[-0.15,1.35],[-0.11,0.65],[-0.09,1.05],[-0.05,0.78],[-0.03,1.22],[0.01,0.95],[0.03,0.55],[0.07,1.15],[0.09,0.8],[0.13,1.0],[0.17,0.7],[0.19,1.3],[0.23,0.88],[0.27,1.05],[0.29,0.45],[0.33,0.95],[0.37,1.15],[0.41,0.62],[0.43,1.38],[0.47,0.85],[0.49,1.1],
  [-1.45,0.38],[-1.3,0.3],[-1.15,0.25],[-1.0,0.4],[-0.85,0.2],[-0.7,0.32],[-0.55,0.18],[-0.4,0.45],[-0.25,0.28],[-0.1,0.2],[0.05,0.35],[0.2,0.25],
  [-1.4,0.9],[-1.2,1.05],[-1.0,1.18],[-0.8,0.95],[-0.6,1.05],[-0.4,1.22],[-0.2,0.92],[0.0,1.05],[0.2,1.15],[-1.3,1.18],[-1.1,0.8],[-0.9,0.92],[-0.7,1.05],[-0.5,1.15],[-0.3,0.9],[-0.1,0.85],[0.1,0.98],[-0.6,0.85],[-0.35,0.72],[-0.15,0.98],[-0.75,1.38],[-0.45,1.45],[-0.25,1.55],[-0.55,1.42],[-0.95,1.5],[-1.25,1.45],
  [0.52,0.9],[0.58,1.2],[0.62,0.7],[0.68,1.3],[0.74,0.95],[0.78,1.28],[0.84,0.72],[0.88,1.05],[0.92,1.35],[0.96,0.9],[1.04,1.3],[1.06,0.98],[1.12,1.25],[1.16,0.82],[1.24,1.18],[1.3,1.35],[1.36,1.0],[1.44,1.22],[1.52,0.85],[1.6,1.15],[1.66,1.3],[1.74,0.88],[1.84,1.2],[1.92,1.1],[2.02,1.3],[2.12,1.12],[2.22,0.95],[2.42,1.1],[0.66,1.45],[0.94,1.55],[1.26,0.6],[1.56,0.55],[1.04,0.4],[0.8,0.5],[1.4,0.45],[1.7,0.72]];

var zeroG = [-2.48,-2.1,-2.02,-1.92,-1.58,-1.53,-1.48,-1.43,-1.38,-1.33,-1.28,-1.23,-1.18,-1.13,-1.08,-1.03,-0.98,-0.93,-0.88,-0.83,-0.78,-0.73,-0.68,-0.62,-0.55,-0.48,-0.3,-0.24,-0.18,-0.12,-0.06,0.0,0.06,0.12,0.2,0.28,0.36,0.44,0.52,0.62,0.7,0.78,0.86,0.94,1.02,1.1,1.2,1.32,1.44,1.52,1.62,2.0,2.1,2.2,2.43,
  -1.55,-1.5,-1.45,-1.4,-1.35,-1.3,-1.25,-1.2,-1.15,-1.1,-1.05,-1.0,-0.95,-0.9,-0.85,-0.8,-0.75,-0.7,-0.65,-0.58,-0.27,-0.21,-0.15,-0.09,-0.03,0.03,0.09,0.16,0.24,0.32,0.4,0.48,0.66,0.74,0.82,0.9,0.98,1.06,1.15,1.26,1.38];
var ptsG = [[-3.45,0.35],[-2.48,1.26],[-2.33,0.56],[-2.02,0.98],[-2.1,0.22],[-1.81,0.95],[-1.73,1.1],[-1.65,1.27],[-1.58,0.26],[-1.5,0.42],[-1.45,1.04],[-1.4,1.65],[-1.38,0.8],[-1.35,0.55],[-1.32,1.5],
  [-1.3,1.74],[-1.28,1.02],[-1.25,0.78],[-1.22,0.2],[-1.2,1.2],[-1.18,1.45],[-1.15,0.65],[-1.12,1.76],[-1.1,0.92],[-1.08,1.5],[-1.05,0.3],[-1.02,1.1],[-1.0,0.18],[-0.98,0.85],[-0.95,1.64],[-0.92,0.55],[-0.9,1.02],[-0.88,0.35],[-0.85,1.25],[-0.82,0.72],[-0.8,1.45],[-0.78,0.42],[-0.75,0.95],[-0.72,1.15],[-0.7,0.6],[-0.68,1.3],[-0.65,0.82],[-0.62,1.0],[-0.6,0.38],[-0.58,1.42],[-0.55,0.75],[-0.52,1.1],[-0.5,0.55],[-0.48,1.48],[-0.45,0.9],[-0.42,1.2],[-0.4,0.3],[-0.38,1.05],[-0.35,0.68],[-0.32,1.25],[-0.3,2.24],[-0.28,0.45],[-0.25,1.0],[-0.22,1.35],[-0.2,0.8],[-0.18,1.12],[-0.15,0.58],[-0.12,1.55],[-0.1,0.92],[-0.08,0.25],[-0.05,1.2],[-0.02,0.72],[0.0,1.62],[0.02,1.05],[0.05,0.48],[0.08,1.68],[0.1,0.85],[0.12,1.3],[0.15,0.62],[0.18,1.15],[0.2,0.22],[0.22,1.4],[0.25,0.95],[0.28,1.25],[0.3,0.12],[0.32,0.72],[0.35,1.78],[0.38,1.08],[0.4,0.5],[0.42,1.32],[0.45,0.82],[0.48,1.55],[0.5,0.35],[0.52,1.2],[0.55,0.9],[0.58,1.45],[0.6,0.6],[0.62,1.05],[0.65,0.42],[0.68,1.35],[0.7,0.78],[0.72,1.25],[0.75,0.55],[0.78,1.4],[0.8,0.28],[0.82,2.08],[0.85,1.0],[0.88,0.62],[0.9,1.25],[0.92,0.48],[0.95,1.8],[0.98,0.85],[1.0,1.72],[1.02,0.22],[1.05,1.1],[1.08,0.65],[1.1,1.45],[1.12,0.9],[1.15,1.25],[1.18,0.42],[1.2,1.48],[1.22,0.75],[1.25,1.05],[1.28,0.32],[1.3,1.2],[1.32,0.9],[1.35,1.55],[1.38,0.48],[1.4,1.72],[1.42,1.0],[1.45,0.6],[1.48,1.28],[1.5,1.55],[1.52,0.45],[1.55,1.05],[1.58,1.7],[1.62,0.85],[1.65,1.15],[1.68,0.62],[1.72,0.95],[1.78,1.1],[1.8,0.22],[1.85,1.08],[1.92,1.05],[2.0,1.08],[2.02,1.34],[2.05,0.88],[2.15,0.7],
  [-0.9,1.2],[-0.7,0.95],[-0.5,1.25],[-0.3,1.05],[-0.1,1.3],[0.1,1.1],[0.3,1.45],[0.5,1.05],[0.7,1.1],[0.9,1.4],[1.1,1.2],[1.3,0.65],[-0.6,0.75],[-0.2,0.95],[0.2,0.9],[0.6,0.85],[1.0,0.95],[1.4,1.25],[-1.0,1.25],[-0.4,1.5],[0.0,0.85],[0.4,1.15],[0.8,1.05],[1.2,1.0],[-0.8,0.62],[-0.45,0.4],[0.15,0.4],[0.55,0.25],[0.95,0.6],[1.35,0.8],[-1.2,0.45],[-1.4,0.25],[-1.35,1.2],[-1.25,1.22],[-1.5,0.8],
  [-1.45,1.3],[-1.35,0.9],[-1.25,0.55],[-1.15,1.05],[-1.05,1.4],[-0.95,0.72],[-0.85,1.05],[-0.75,1.3],[-0.65,0.55],[-0.55,1.2],[-0.45,1.05],[-0.35,1.4],[-0.25,0.72],[-0.15,1.25],[-0.05,0.95],[0.05,1.3],[0.15,0.95],[0.25,1.15],[0.35,0.85],[0.45,1.25],[0.55,1.4],[0.65,0.95],[0.75,1.2],[0.85,0.8],[0.95,1.15],[1.05,0.85],[1.15,1.0],[1.25,1.35],[1.35,1.1],[1.45,0.9],[1.55,1.3],[-1.2,0.95],[-1.0,1.05],[-0.8,1.15],[-0.6,1.3],[-0.4,0.85],[-0.2,1.15],[0.0,1.05],[0.2,1.2],[0.4,0.95],[0.6,1.2],[0.8,1.3],[1.0,1.15],[1.2,0.65],[1.4,1.05],[-1.1,0.6],[-0.9,0.5],[-0.7,0.3],[-0.5,0.85],[-0.3,0.55],[-0.1,0.6],[0.1,0.65],[0.3,0.5],[0.5,0.7],[0.7,0.45],[0.9,0.75],[1.1,0.55],[1.3,0.45],[1.5,0.75],[-0.8,1.55],[-0.4,1.62],[0.2,1.6],[0.6,1.58],[1.0,1.45],[-0.15,1.45],[0.45,1.0],[0.85,1.0],[-0.6,0.95]];

var zeroH = [-1.8,-1.72,-1.68,-1.6,-1.5,-1.45,-1.35,-1.25,-1.2,-1.15,-1.1,-1.05,-1.0,-0.95,-0.9,-0.85,-0.8,-0.72,-0.68,-0.62,-0.58,-0.52,-0.45,-0.4,-0.32,-0.25,-0.15,-0.1,-0.05,-0.02,0.0,0.03,0.06,0.09,0.12,0.15,0.18,0.21,0.24,0.27,0.3,0.33,0.36,0.39,0.42,0.45,0.48,0.51,0.54,0.57,0.6,0.63,0.66,0.7,0.74,0.78,0.82,0.86,0.9,0.96,1.02,1.06,1.16,
  0.015,0.045,0.075,0.105,0.135,0.165,0.195,0.225,0.255,0.285,0.315,0.345,0.375,0.405,0.435,0.465,0.495,0.525,0.555,0.585,0.615,0.645,0.68,0.72,0.76,0.8,0.84,0.88,-1.3,-1.12,-0.75,-0.55,-0.35,-0.2,1.1];
var ptsH = [[-2.05,0.56],[-1.92,0.92],[-1.9,0.22],[-1.8,1.2],[-1.78,1.38],[-1.73,1.94],[-1.68,0.43],[-1.62,0.6],[-1.6,0.25],[-1.55,1.15],[-1.55,1.03],[-1.5,0.5],[-1.48,0.13],[-1.47,1.28],[-1.42,0.18],[-1.38,1.1],[-1.35,0.95],[-1.3,0.4],[-1.28,1.28],[-1.25,0.82],[-1.22,1.64],[-1.2,1.5],[-1.18,0.25],[-1.15,0.6],[-1.12,0.3],[-1.1,1.15],[-1.08,1.02],[-1.05,0.85],[-1.02,1.28],[-1.0,0.95],[-0.98,1.52],[-0.95,0.3],[-0.93,0.18],[-0.9,0.22],[-0.88,0.85],[-0.85,0.55],[-0.82,1.35],[-0.8,1.25],[-0.78,0.6],[-0.75,0.2],[-0.72,1.08],[-0.7,1.2],[-0.68,2.24],[-0.66,1.45],[-0.65,0.55],[-0.62,0.25],[-0.6,0.8],[-0.58,1.18],[-0.55,1.9],[-0.55,1.7],[-0.52,0.3],[-0.5,1.05],[-0.48,0.75],[-0.45,0.45],[-0.42,0.6],[-0.4,1.1],[-0.38,0.92],[-0.35,0.4],[-0.32,1.15],[-0.3,0.13],[-0.28,0.8],[-0.25,1.48],[-0.22,1.3],[-0.2,0.55],[-0.18,1.05],[-0.15,0.7],[-0.12,1.22],[-0.1,0.4],[-0.08,1.4],[-0.05,0.9],[-0.02,1.25],[-0.75,0.75],[-0.8,0.65],[-0.6,0.6],[-0.7,0.85],[-0.9,0.8],[-1.0,0.7],[-0.5,0.85],[-0.3,1.0],[-0.45,1.2],[-0.2,1.0],[-0.1,1.1],[-0.35,0.82],[-0.55,0.42],[-0.65,1.02],
  [0.0,1.75],[0.02,1.05],[0.04,0.4],[0.06,1.3],[0.08,0.85],[0.08,2.24],[0.1,1.5],[0.12,0.6],[0.14,1.15],[0.16,1.8],[0.18,0.3],[0.2,1.0],[0.01,0.7],[0.03,1.2],[0.05,1.55],[0.07,0.25],[0.09,1.1],[0.11,0.95],[0.13,1.4],[0.15,0.5],[0.17,1.25],[0.19,0.8],[0.0,1.1],[0.02,0.35],[0.04,1.65],[0.06,0.55],[0.1,1.25],[0.12,1.35],[0.14,0.75],[0.16,1.05],[0.18,1.6],[0.2,0.45],[0.05,0.95],[0.15,0.2],[0.03,0.9],[0.13,1.0],
  [0.22,1.2],[0.24,0.65],[0.26,1.45],[0.28,1.7],[0.3,0.9],[0.32,1.3],[0.34,0.35],[0.36,1.1],[0.38,1.6],[0.4,0.7],[0.42,2.07],[0.43,1.98],[0.44,1.0],[0.21,0.95],[0.23,1.55],[0.25,0.3],[0.27,1.05],[0.29,1.35],[0.31,0.55],[0.33,1.65],[0.35,0.8],[0.37,1.25],[0.39,0.2],[0.41,1.15],[0.43,0.6],[0.45,1.4],[0.22,0.8],[0.26,1.0],[0.3,1.2],[0.34,1.5],[0.38,0.95],[0.42,1.3],[0.24,1.25],[0.28,0.45],[0.32,0.95],[0.36,0.6],[0.4,1.45],[0.44,0.82],
  [0.46,1.6],[0.48,0.9],[0.5,1.25],[0.52,0.3],[0.54,1.05],[0.56,1.7],[0.58,0.55],[0.6,1.8],[0.62,1.15],[0.64,0.7],[0.66,1.35],[0.68,0.25],[0.7,1.0],[0.47,1.2],[0.49,0.45],[0.51,1.5],[0.53,0.8],[0.55,1.1],[0.57,0.95],[0.59,1.4],[0.61,0.35],[0.63,1.25],[0.65,0.6],[0.67,1.55],[0.69,0.85],[0.5,0.7],[0.55,0.45],[0.6,1.0],[0.65,1.1],[0.7,0.5],
  [0.72,1.3],[0.74,0.7],[0.76,1.5],[0.78,1.0],[0.8,0.35],[0.82,1.15],[0.84,0.85],[0.86,1.3],[0.88,0.55],[0.9,1.66],[0.9,1.08],[0.92,0.28],[0.94,1.35],[0.96,1.62],[0.98,1.02],[1.0,0.72],[1.05,0.8],[1.1,0.35],[1.15,0.85],[0.75,1.1],[0.8,0.9],[0.85,0.4],[0.9,0.45],[0.95,1.05],[0.78,1.2],[0.83,0.65],[0.88,1.42],[0.73,0.95],[0.87,0.95],
  [-0.09,0.8],[-0.07,1.18],[-0.04,0.5],[-0.02,1.02],[0.0,0.85],[0.02,1.35],[0.04,0.95],[0.06,1.2],[0.08,0.45],[0.1,1.05],[0.12,0.85],[0.14,1.3],[0.16,0.6],[0.18,1.12],[0.2,1.4],[0.22,0.55],[0.24,1.05],[0.26,0.75],[0.28,1.25],[0.3,0.6],[0.32,1.12],[0.34,0.82],[0.36,1.35],[0.38,0.7],[0.4,1.0],[0.42,0.85],[0.44,1.22],[0.46,0.45],[0.48,1.08],[0.5,0.9],[0.52,1.35],[0.54,0.65],[0.56,1.2],[0.58,0.85],[0.6,1.3],[0.62,0.5],[0.64,1.05],[0.66,0.8],[0.68,1.15],[0.7,0.75],[0.72,1.05],[0.74,0.4],[0.76,0.9],[0.78,0.6],[0.8,1.1],
  [0.01,1.42],[0.03,0.6],[0.05,1.15],[0.07,0.95],[0.09,1.6],[0.11,0.7],[0.13,1.2],[0.15,0.9],[0.17,0.45],[0.19,1.25],[0.21,1.1],[0.23,0.85],[0.25,1.4],[0.27,0.6],[0.29,1.0],[0.31,1.3],[0.33,0.75],[0.35,1.15],[0.37,0.95],[0.39,1.35],[0.41,0.5],[0.43,1.1],[0.45,0.95],[0.47,0.7],[0.49,1.3],[0.51,1.05],[0.53,0.5],[0.55,1.25],[0.57,1.45],[0.59,0.7],[0.61,1.15],[0.63,0.9],[0.65,1.45],[0.67,0.55],[0.69,1.2],[0.71,0.9],[0.73,1.45],[0.75,0.65],[0.77,1.25],[0.79,0.8],
  [0.0,0.3],[0.05,0.25],[0.1,0.2],[0.15,0.35],[0.2,0.28],[0.25,0.45],[0.3,0.35],[0.35,0.2],[0.4,0.3],[0.45,0.25],[0.5,0.4],[0.55,0.3],[0.6,0.2],[0.65,0.4],[0.7,0.3],[0.8,0.2],[0.85,0.3],
  [0.82,0.8],[0.84,1.2],[0.86,0.65],[0.88,1.0],[0.9,0.75],[0.92,1.25],[0.94,0.55],[0.96,0.9],[0.98,1.2],[1.02,0.95],[1.06,0.6],[1.12,0.78],[-0.15,0.9],[-0.25,1.1],[-0.35,1.25],[-0.45,0.95],[-0.5,1.3],[-0.6,1.05],[-0.7,0.55],[-0.8,0.95],[-0.9,1.1],[-1.0,1.18],[-0.3,0.6],[-0.2,0.75],[-0.12,0.55],[-0.4,0.75],[-0.55,0.68],[-0.65,0.75]];

var allPts = [ptsA, ptsB, ptsC, ptsD, ptsE, ptsF, ptsG, ptsH];
var allZeros = [zeroA, zeroB, zeroC, zeroD, zeroE, zeroF, zeroG, zeroH];

// ---- layout ----
var width = 1312, height = 553;
var colLeft = [64, 399, 733, 1067], rowTop = [38, 313];
var plotW = 243, plotH = 199;
var letterX = [8, 340, 684, 1014], letterY = [35, 290];

var svg = d3.select("body").append("svg")
    .attr("width", width)
    .attr("height", height);

letters.forEach(function (letter, i) {
    var col = i % 4, row = Math.floor(i / 4);
    var x = d3.scaleLinear().domain(xDomains[col]).range([0, plotW]);
    var y = d3.scaleLinear().domain(yDomains[row]).range([plotH, 0]);

    svg.append("text")
        .attr("x", letterX[col])
        .attr("y", letterY[row])
        .style("font-size", "29px")
        .text(letter);

    var g = svg.append("g")
        .attr("transform", "translate(" + colLeft[col] + "," + rowTop[row] + ")");

    // grid
    g.selectAll(".xminor").data(xMinor[col]).enter().append("line")
        .attr("x1", x).attr("x2", x).attr("y1", 0).attr("y2", plotH)
        .attr("stroke", "#f3f3f3").attr("stroke-width", 0.6);
    g.selectAll(".yminor").data(yMinor[row]).enter().append("line")
        .attr("y1", y).attr("y2", y).attr("x1", 0).attr("x2", plotW)
        .attr("stroke", "#f3f3f3").attr("stroke-width", 0.6);
    g.selectAll(".xmajor").data(xTicks[col]).enter().append("line")
        .attr("x1", x).attr("x2", x).attr("y1", 0).attr("y2", plotH)
        .attr("stroke", "#e6e6e6").attr("stroke-width", 1);
    g.selectAll(".ymajor").data(yTicks[row]).enter().append("line")
        .attr("y1", y).attr("y2", y).attr("x1", 0).attr("x2", plotW)
        .attr("stroke", "#e6e6e6").attr("stroke-width", 1);

    // points
    var pts = allPts[i].concat(allZeros[i].map(function (v) { return [v, 0]; }));
    g.append("g").selectAll("circle")
        .data(pts)
        .enter().append("circle")
        .attr("cx", function (d) { return x(d[0]); })
        .attr("cy", function (d) { return y(d[1]); })
        .attr("r", 1.3)
        .attr("fill", "#000");

    // smooth: band + line
    var f = fits[i];
    var slope = (f[3] - f[2]) / (f[1] - f[0]);
    var band = d3.range(0, 61).map(function (s) {
        var xv = f[0] + (f[1] - f[0]) * s / 60;
        var c = f[2] + slope * (xv - f[0]);
        var hw = Math.sqrt(f[5] * f[5] + f[6] * f[6] * (xv - f[4]) * (xv - f[4]));
        return { x: xv, lo: c - hw, hi: c + hw };
    });
    var area = d3.area()
        .defined(function (d) { return d.lo >= 0; })
        .x(function (d) { return x(d.x); })
        .y0(function (d) { return y(d.lo); })
        .y1(function (d) { return y(d.hi); });
    g.append("path")
        .attr("d", area(band))
        .attr("fill", "#999999")
        .attr("fill-opacity", 0.4);
    g.append("line")
        .attr("x1", x(f[0])).attr("y1", y(f[2]))
        .attr("x2", x(f[1])).attr("y2", y(f[3]))
        .attr("stroke", "#3366FF")
        .attr("stroke-width", 3.8);

    // stat label
    g.append("text")
        .attr("x", 31)
        .attr("y", 26)
        .style("font-size", "11.3px")
        .attr("fill", "#000")
        .text(statLabels[i]);

    // border
    g.append("rect")
        .attr("width", plotW).attr("height", plotH)
        .attr("fill", "none")
        .attr("stroke", "#8a8a8a")
        .attr("stroke-width", 1);

    // axes
    var ax = g.append("g")
        .attr("transform", "translate(0," + plotH + ")")
        .call(d3.axisBottom(x).tickValues(xTicks[col]).tickSize(3).tickPadding(4)
            .tickFormat(function (d) { return String(d); }));
    var ay = g.append("g")
        .call(d3.axisLeft(y).tickValues(yTicks[row]).tickSize(3).tickPadding(2.5)
            .tickFormat(function (d) { return String(d); }));
    [ax, ay].forEach(function (a) {
        a.select(".domain").remove();
        a.selectAll(".tick line").attr("stroke", "#333");
        a.selectAll(".tick text")
            .attr("fill", "#4d4d4d")
            .style("font-size", "14.5px")
            .style("font-family", "'Liberation Sans', Arial, sans-serif");
    });

    // axis titles
    g.append("text")
        .attr("x", plotW / 2)
        .attr("y", plotH + 36)
        .attr("text-anchor", "middle")
        .style("font-size", "16.8px")
        .text(xTitles[col]);
    g.append("text")
        .attr("transform", "translate(-19," + (plotH / 2) + ") rotate(-90)")
        .attr("text-anchor", "middle")
        .style("font-size", "16.8px")
        .text(yTitles[row]);
});
</script>
</body>
</html>
